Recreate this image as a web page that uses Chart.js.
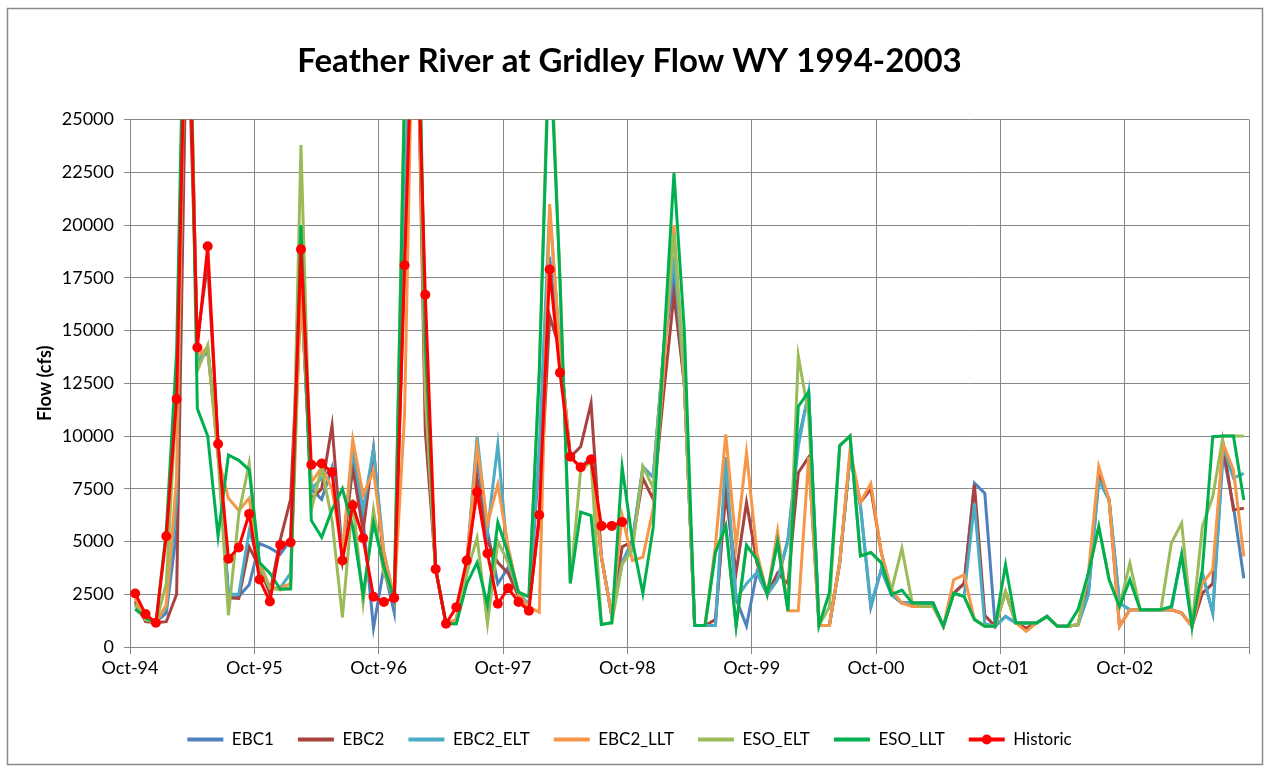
<!DOCTYPE html>
<html>
<head>
<meta charset="utf-8">
<title>Feather River at Gridley Flow WY 1994-2003</title>
<script src="https://cdn.jsdelivr.net/npm/chart.js@4.4.1/dist/chart.umd.min.js"></script>
<style>
  html, body { margin: 0; padding: 0; background: #fff; }
  canvas { display: block; }
</style>
</head>
<body>
<canvas id="flowChart" width="1271" height="774"></canvas>
<script>
// tick labels on the x axis (one per water year)
const yearLabels = ["Oct-94", "Oct-95", "Oct-96", "Oct-97", "Oct-98", "Oct-99", "Oct-00", "Oct-01", "Oct-02"];
const seriesNames = ["EBC1", "EBC2", "EBC2_ELT", "EBC2_LLT", "ESO_ELT", "ESO_LLT", "Historic"];
const seriesColors = ["#4F81BD", "#A8423F", "#4BACC6", "#F79646", "#9BBB59", "#00B050", "#FF0000"];

// monthly flow (cfs), Oct-94 .. Sep-03
const ebc1 = [
  2100, 1300, 1200, 1600, 5500, 36000, 13500, 14000, 9500, 2300, 2400, 2950,
  4900, 4700, 4400, 5100, 17000, 7500, 7000, 8500, 4200, 9000, 6000, 900,
  3770, 1640, 20000, 38000, 12000, 3700, 1100, 1200, 3800, 9000, 5500, 3000,
  3770, 2400, 1900, 9000, 18500, 13500, 9000, 8500, 9000, 4260, 1470, 4000,
  5080, 8500, 8050, 14000, 17500, 12460, 1020, 1020, 1020, 7950, 2270, 1000,
  3530, 2500, 3200, 5100, 9800, 12000, 1020, 1020, 4000, 9070, 6690, 1880,
  3660, 2480, 2080, 2080, 2080, 2080, 980, 2550, 3000, 7760, 7290, 980,
  1450, 1140, 1140, 1140, 1450, 980, 980, 1060, 2500, 7920, 6970, 2080,
  1770, 1770, 1770, 1770, 1770, 1610, 980, 3500, 1610, 9180, 6650, 3260
];
const ebc2 = [
  2200, 1200, 1150, 1200, 2500, 31000, 14600, 18200, 9700, 2330, 2300, 4750,
  3770, 2540, 5080, 7000, 17500, 7000, 7500, 10500, 4300, 8500, 5500, 9400,
  4000, 2300, 18000, 36000, 10250, 3700, 1100, 1300, 3500, 8000, 5000, 4000,
  3500, 2400, 1900, 6000, 15700, 14100, 9000, 9500, 11560, 4260, 1470, 4750,
  5000, 8000, 7000, 12000, 16700, 12460, 1020, 1020, 1300, 7300, 3530, 6850,
  4000, 2500, 3500, 3000, 8260, 9000, 1020, 1020, 4000, 9070, 6860, 7500,
  4500, 2480, 2080, 2080, 2080, 2080, 980, 2550, 3000, 7700, 1500, 980,
  2600, 1140, 900, 1140, 1450, 980, 980, 1060, 3000, 8230, 6970, 980,
  1770, 1770, 1770, 1770, 1770, 1610, 980, 2550, 3000, 9650, 6500, 6580
];
const ebc2Elt = [
  2000, 1300, 1200, 1800, 7000, 36000, 13500, 14200, 9500, 2500, 2500, 5500,
  4000, 2800, 2800, 3500, 17500, 7500, 8000, 8500, 4500, 9300, 6500, 9400,
  4500, 2300, 20000, 38000, 12000, 3700, 1100, 1300, 4000, 10000, 5500, 9600,
  4000, 2600, 2000, 9500, 20800, 14100, 9000, 8500, 9000, 4260, 1470, 4000,
  5000, 8560, 8050, 14000, 18500, 12460, 1020, 1020, 1020, 9000, 2270, 3000,
  3530, 2500, 3200, 5000, 9500, 12100, 1020, 1020, 4000, 9070, 6690, 2000,
  3660, 2480, 2080, 2080, 2080, 2080, 980, 2550, 2400, 6810, 1100, 980,
  1450, 1140, 1140, 1140, 1450, 980, 980, 1060, 2500, 7920, 6970, 2080,
  1770, 1770, 1770, 1770, 1770, 4400, 980, 3500, 1610, 9500, 8000, 8230
];
const ebc2Llt = [
  2300, 1300, 1150, 2000, 8000, 36000, 13800, 14200, 9000, 7050, 6470, 7050,
  4000, 2800, 2800, 3000, 17000, 7800, 8500, 7500, 4400, 9840, 7200, 8360,
  4500, 2300, 11000, 36000, 12000, 3700, 1100, 1300, 4000, 9500, 5850, 7700,
  4750, 2500, 1900, 1640, 21000, 14000, 9000, 8500, 8800, 4260, 1470, 6230,
  4100, 4260, 6560, 13000, 20000, 12460, 1020, 1020, 4800, 10080, 4800, 9200,
  4480, 2500, 5500, 1720, 1720, 9000, 1020, 1020, 4000, 9370, 6860, 7750,
  4500, 2700, 2080, 1920, 1920, 1920, 980, 3190, 3420, 1300, 980, 980,
  2630, 1140, 740, 1140, 1450, 980, 980, 1060, 3500, 8550, 6970, 980,
  1770, 1770, 1770, 1770, 1770, 1610, 980, 3000, 3660, 9650, 8390, 4290
];
const esoElt = [
  2000, 1300, 1150, 3000, 12000, 38000, 13100, 14300, 9000, 1500, 6300, 8700,
  3800, 2800, 2700, 2800, 23800, 6500, 8500, 6000, 1400, 7000, 2100, 6500,
  3500, 2300, 27000, 40000, 13000, 3700, 1100, 1100, 3500, 5170, 1100, 5000,
  4000, 2600, 2380, 13000, 30000, 17400, 3000, 8400, 8770, 1070, 1150, 3930,
  4600, 8560, 7540, 14150, 19600, 13000, 1020, 1020, 4480, 5740, 1000, 4800,
  4160, 2500, 4950, 1720, 13800, 11000, 1020, 1900, 9580, 10000, 4320, 4480,
  4000, 2700, 4680, 2080, 1920, 1920, 980, 2550, 2400, 1300, 980, 980,
  2600, 1140, 1140, 1140, 1450, 980, 980, 1060, 3500, 5710, 3190, 1920,
  3970, 1770, 1770, 1770, 4920, 5870, 980, 5710, 7130, 10000, 10000, 10000
];
const esoLlt = [
  1800, 1400, 1100, 5500, 14000, 38000, 11300, 10000, 5250, 9100, 8850, 8400,
  4000, 3500, 2750, 2750, 20000, 6000, 5200, 6500, 7500, 5700, 2500, 5900,
  3800, 2300, 26000, 40000, 14500, 3700, 1100, 1100, 3000, 4000, 2000, 5900,
  4430, 2600, 2380, 13000, 29000, 17400, 3030, 6400, 6230, 1070, 1150, 8520,
  5000, 2540, 5680, 14150, 22460, 15000, 1020, 1020, 4480, 5740, 1000, 4830,
  4160, 2500, 5000, 1720, 11400, 12100, 1020, 2590, 9530, 10000, 4320, 4480,
  4000, 2480, 2700, 2080, 2080, 2080, 980, 2550, 2400, 1300, 980, 980,
  3900, 1140, 1140, 1140, 1450, 980, 980, 1770, 3500, 5710, 3190, 1920,
  3190, 1770, 1770, 1770, 1920, 4370, 980, 3660, 9970, 10000, 10000, 6970
];
// historic record only runs to Sep-98
const historic = [
  2540, 1560, 1150, 5250, 11750, 34000, 14200, 19000, 9620, 4180, 4720, 6310,
  3200, 2160, 4840, 4950, 18850, 8640, 8700, 8280, 4100, 6720, 5160, 2380,
  2130, 2330, 18100, 33500, 16700, 3690, 1100, 1890, 4100, 7340, 4430, 2050,
  2790, 2130, 1720, 6260, 17900, 13000, 9020, 8520, 8890, 5740, 5740, 5930
];

const allSeries = [ebc1, ebc2, ebc2Elt, ebc2Llt, esoElt, esoLlt, historic];
const FONT = "Lato, 'Open Sans', sans-serif";
const LEGEND_LINE = 36;

// each month is plotted in the middle of its slot, like the excel date axis
function toPoints(values) {
  return values.map((v, i) => ({ x: i + 0.5, y: v }));
}

const datasets = allSeries.map((values, k) => {
  const isHist = seriesNames[k] === "Historic";
  return {
    label: seriesNames[k],
    data: toPoints(values),
    borderColor: seriesColors[k],
    backgroundColor: seriesColors[k],
    borderWidth: 3,
    pointRadius: isHist ? 5 : 0,
    pointHoverRadius: isHist ? 5 : 0,
    pointBackgroundColor: seriesColors[k],
    pointBorderWidth: 0,
    tension: 0,
    clip: 0,
    order: allSeries.length - k // excel draws the last series on top
  };
});

const framePlugin = {
  id: "frame",
  beforeDraw(chart) {
    const c = chart.ctx;
    c.save();
    c.fillStyle = "#fff";
    c.fillRect(0, 0, chart.width, chart.height);
    c.strokeStyle = "#8a8a8a";
    c.lineWidth = 1.5;
    c.strokeRect(7.5, 8.5, 1255, 756);
    c.restore();
  },
  afterDraw(chart) {
    // marker on the Historic legend line
    const boxes = chart.legend.legendHitBoxes;
    const items = chart.legend.legendItems;
    const idx = items.findIndex((it) => it.text === "Historic");
    if (idx < 0) return;
    const b = boxes[idx];
    const c = chart.ctx;
    c.save();
    c.fillStyle = "#FF0000";
    c.beginPath();
    c.arc(b.left + LEGEND_LINE / 2, b.top + b.height / 2, 5, 0, Math.PI * 2);
    c.fill();
    c.restore();
  }
};

const ctx = document.getElementById("flowChart").getContext("2d");
const flowChart = new Chart(ctx, {
  type: "line",
  data: { datasets: datasets },
  plugins: [framePlugin],
  options: {
    responsive: false,
    animation: false,
    events: [],
    layout: { padding: { left: 10, right: 22, top: 10, bottom: 16 } },
    plugins: {
      tooltip: { enabled: false },
      title: {
        display: true,
        text: "Feather River at Gridley Flow WY 1994-2003",
        color: "#000",
        font: { family: FONT, size: 33, weight: "bold" },
        padding: { top: 32, bottom: 38 }
      },
      legend: {
        position: "bottom",
        labels: {
          color: "#000",
          font: { family: FONT, size: 17 },
          usePointStyle: true,
          pointStyleWidth: LEGEND_LINE,
          boxHeight: 17,
          padding: 24,
          sort: (a, b) => a.datasetIndex - b.datasetIndex,
          generateLabels(chart) {
            const items = Chart.defaults.plugins.legend.labels.generateLabels(chart);
            items.forEach((it) => {
              it.pointStyle = "line";
              it.lineWidth = 4;
              it.strokeStyle = seriesColors[it.datasetIndex];
            });
            return items;
          }
        }
      }
    },
    scales: {
      x: {
        type: "linear",
        min: 0,
        max: 108,
        afterFit(scale) { scale.height = 60; },
        ticks: {
          stepSize: 12,
          autoSkip: false,
          maxRotation: 0,
          padding: 3,
          color: "#000",
          font: { family: FONT, size: 18 },
          callback: (value) => yearLabels[value / 12] || ""
        },
        grid: { color: "#878787", lineWidth: 1, tickLength: 7 },
        border: { color: "#878787", width: 1 }
      },
      y: {
        min: 0,
        max: 25000,
        afterFit(scale) { scale.width = 120; },
        ticks: {
          stepSize: 2500,
          padding: 10,
          color: "#000",
          font: { family: FONT, size: 18 },
          callback: (value) => String(value)
        },
        grid: { color: "#878787", lineWidth: 1, tickLength: 6 },
        border: { color: "#878787", width: 1 },
        title: {
          display: true,
          text: "Flow (cfs)",
          color: "#000",
          font: { family: FONT, size: 18, weight: "bold" },
          padding: { top: 24, bottom: 0 }
        }
      }
    }
  }
});
</script>
</body>
</html>
